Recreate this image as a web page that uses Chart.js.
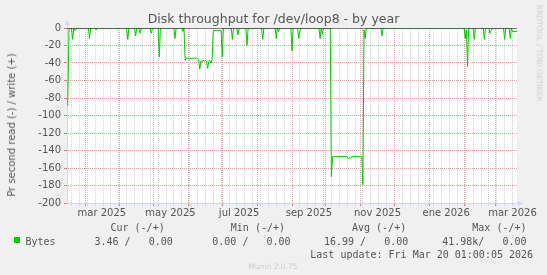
<!DOCTYPE html>
<html><head><meta charset="utf-8">
<script src="https://cdn.jsdelivr.net/npm/chart.js@4.4.1/dist/chart.umd.min.js"></script>
<style>
html,body{margin:0;padding:0;background:#f0f0f0;width:547px;height:275px;overflow:hidden;}
#wrap{position:relative;width:547px;height:275px;}
canvas{position:absolute;left:0;top:0;}
.t{position:absolute;white-space:pre;font-family:"DejaVu Sans";color:#555;line-height:1;}
.m{position:absolute;white-space:pre;font-family:"DejaVu Sans Mono";font-size:10px;line-height:10px;color:#555;}
</style></head>
<body><div id="wrap">
<canvas id="c" width="547" height="275"></canvas>
<div class="t" style="left:0;width:547px;text-align:center;top:13.4px;font-size:12.5px;">Disk throughput for /dev/loop8 - by year</div>
<div class="t" style="left:12.3px;top:125px;font-size:10px;transform:translate(-50%,-50%) rotate(-90deg);">Pr second read (-) / write (+)</div>
<div class="t" style="left:538.5px;top:53px;font-size:7.5px;color:#cfcfcf;transform:translate(-50%,-50%) rotate(90deg);">RRDTOOL / TOBI OETIKER</div>
<div class="m" style="left:110.5px;top:223.2px;">Cur (-/+)</div>
<div class="m" style="left:230.8px;top:223.2px;">Min (-/+)</div>
<div class="m" style="left:352px;top:223.2px;">Avg (-/+)</div>
<div class="m" style="left:472.3px;top:223.2px;">Max (-/+)</div>
<div style="position:absolute;left:13.5px;top:236.7px;width:6px;height:6px;background:#00cc00;"></div>
<div class="m" style="left:25.5px;top:236.9px;">Bytes</div>
<div class="m" style="left:94.5px;top:236.9px;">3.46 /   0.00</div>
<div class="m" style="left:212.3px;top:236.9px;">0.00 /   0.00</div>
<div class="m" style="left:324px;top:236.9px;">16.99 /   0.00</div>
<div class="m" style="left:442.2px;top:236.9px;">41.98k/   0.00</div>
<div class="m" style="left:310.3px;top:249.5px;">Last update: Fri Mar 20 01:00:05 2026</div>
<div class="t" style="left:273px;top:266.5px;font-size:7.5px;color:#cccccc;transform:translate(-50%,-50%);">Munin 2.0.75</div>
</div>
<script>
// days since start of the 400-day window (Feb 13 2025 01:00)
const days = [0.6,1.8,4,5,6,7,8,9,19,20,21,25,26,27,53,54,55,60,61,62,64,65,66,74,75,76,81,82,83,95,96,97,102,103,104,105,106,116,117,118,119,120,121,122,123,124,125,126,127,128,129,130,137,138,139,146,147,148,151,152,153,159,160,161,173,174,175,185,186,187,188,189,199,200,201,205,206,207,208,224,225,226,227,228,234,235,236,249,250,251,252,253,262,263,264,265,266,279,280,281,353,354,355,356,357,361,362,363,370,371,372,375,376,377,378,388,389,390,393,394,395,396,399,400];
// read bytes per second (drawn negative)
const reads = [-89,0,0,-13,0,-3,-2,0,0,-12,0,0,-2,0,0,-13,0,0,-9,0,0,-6,0,0,-6,0,0,-33,0,0,-12,0,0,-4,0,-37,-34.5,-34.5,-36,-47,-38,-39,-37,-38,-37,-38,-46,-38,-37,-40,-36,-3,-3,-33,0,0,-13,0,0,-8,0,0,-20,0,0,-13,0,0,-12,0,-4,0,0,-26,0,0,-12,-3,0,0,-12,0,-7,0,0,-170,-147,-147,-149,-148,-149,-147,-147,-179,-2,-12,0,0,-9,0,0,-12,-2,-44,0,0,-13,0,0,-13,0,0,-6,-3,0,0,-13,0,0,-12,0,-4,-4,-3.5];
const writes = [0, 0]; // write series is zero (hrule at 0)
const monthStarts = [16,47,77,108,138,169,200,230,261,291,322,353,381];
const labelDays = [31,92,153,215,276,337,396];
const monthLabels = ['mar 2025','may 2025','jul 2025','sep 2025','nov 2025','ene 2026','mar 2026'];
const firstMonday = 4;
const yLabelStep = 20;

const MAJOR = '#e6a2a2', MINOR = '#d2d2d2', AXIS = '#CFD6F8', TICKRED = '#e07a7a', FONT = '#555';
const weekTicks = [];
for (let d = firstMonday; d < 400; d += 7) weekTicks.push(d);
const allTicks = Array.from(new Set([...weekTicks, ...monthStarts, ...labelDays])).sort((a,b)=>a-b);

const pts = days.map((d,i)=>({x:d, y:reads[i]}));

const bg = {id:'bg', beforeDraw(ch){const {ctx,chartArea:a}=ch; ctx.save(); ctx.fillStyle='#f0f0f0'; ctx.fillRect(0,0,ch.width,ch.height); ctx.fillStyle='#fff'; ctx.fillRect(a.left,a.top,a.right-a.left,a.bottom-a.top); ctx.restore();}};
const arrows = {id:'arrows', afterDraw(ch){const {ctx,chartArea:a}=ch; ctx.save(); ctx.fillStyle=AXIS; ctx.strokeStyle=AXIS; ctx.lineWidth=1;
  const lx=Math.round(a.left)+0.5, by=Math.round(a.bottom)+0.5;
  ctx.beginPath(); ctx.moveTo(lx,a.top); ctx.lineTo(lx,a.top-4); ctx.stroke();
  ctx.beginPath(); ctx.moveTo(lx,a.top-8); ctx.lineTo(lx-2.5,a.top-3); ctx.lineTo(lx+2.5,a.top-3); ctx.closePath(); ctx.fill();
  ctx.beginPath(); ctx.moveTo(a.right,by); ctx.lineTo(a.right+3,by); ctx.stroke();
  ctx.beginPath(); ctx.moveTo(a.right+6,by); ctx.lineTo(a.right+1,by-2.5); ctx.lineTo(a.right+1,by+2.5); ctx.closePath(); ctx.fill();
  ctx.restore();}};

const isMonth = v => monthStarts.includes(v);
const isWeek = v => weekTicks.includes(v);

new Chart(document.getElementById('c'), {
  type:'line',
  data:{datasets:[
    {label:'zero', data:[{x:0,y:writes[0]},{x:400,y:writes[1]}], borderColor:'#000', borderWidth:1, pointRadius:0},
    {label:'Bytes', data:pts, borderColor:'#00cc00', borderWidth:1, pointRadius:0, tension:0, fill:false}
  ]},
  options:{
    responsive:false, animation:false, devicePixelRatio:1,
    layout:{padding:{top:28,right:30,left:0,bottom:0}},
    plugins:{legend:{display:false},tooltip:{enabled:false}},
    scales:{
      x:{type:'linear', min:0, max:400,
        afterBuildTicks:s=>{ s.ticks = allTicks.map(v=>({value:v})); },
        afterFit:s=>{ s.height = 72; },
        ticks:{autoSkip:false, maxRotation:0, minRotation:0, padding:1, color:FONT, font:{family:'DejaVu Sans', size:10},
          callback:(v)=>{ const i = labelDays.indexOf(v); return i>=0 ? monthLabels[i] : ''; }},
        grid:{lineWidth:1, tickLength:3,
          color:c=>{ const v=c.tick&&c.tick.value; return isMonth(v)?MAJOR:(isWeek(v)?MINOR:'rgba(0,0,0,0)'); },
          tickColor:c=>{ const v=c.tick&&c.tick.value; return isMonth(v)?TICKRED:(isWeek(v)?AXIS:'rgba(0,0,0,0)'); }},
        border:{color:AXIS, width:1, dash:[1,1]}
      },
      y:{min:-200, max:0,
        afterFit:s=>{ s.width = 67; },
        ticks:{stepSize:10, padding:3, color:FONT, font:{family:'DejaVu Sans', size:10},
          callback:(v)=> (v % yLabelStep === 0) ? String(v) : ''},
        grid:{lineWidth:1, tickLength:3,
          color:c=>{ const v=c.tick?c.tick.value:1; if (v===0||v===-200) return 'rgba(0,0,0,0)'; return (v % yLabelStep === 0)?MAJOR:MINOR; },
          tickColor:c=>{ const v=c.tick?c.tick.value:1; return (v % yLabelStep === 0)?TICKRED:AXIS; }},
        border:{color:AXIS, width:1, dash:[1,1]}
      }
    }
  },
  plugins:[bg, arrows]
});
</script>
</body></html>
